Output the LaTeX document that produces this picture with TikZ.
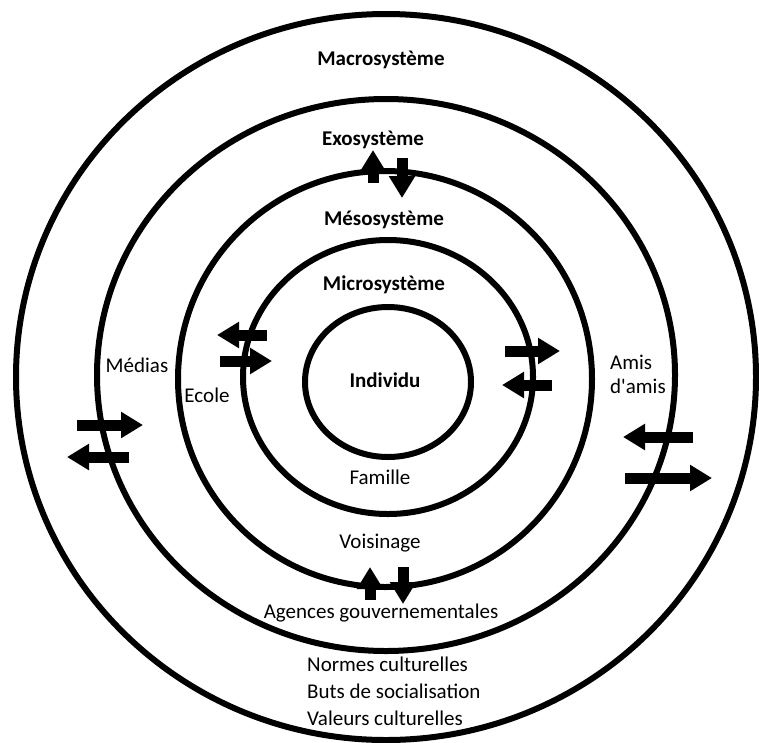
\documentclass[tikz,border=0pt]{standalone}
\usepackage{fontspec}
\setmainfont{Carlito}[Ligatures=TeXOff]
\usetikzlibrary{arrows.meta}
\tikzset{
  ring/.style={draw=black, line width=6pt},
  lbl/.style={inner sep=0pt, font=\fontsize{21}{24}\selectfont},
  blbl/.style={inner sep=0pt, font=\fontsize{21}{24}\selectfont\bfseries},
  blockarrow/.style={line width=11pt, -{Triangle[length=22pt,width=25pt]}}
}
\begin{document}
\begin{tikzpicture}[x=1pt,y=-1pt]
\useasboundingbox (0,0) rectangle (759,742);
\fill[white] (0,0) rectangle (759,742);
% rings
\draw[ring] (386,377) ellipse [x radius=370pt, y radius=363pt];
\draw[ring] (386,375) ellipse [x radius=289pt, y radius=276pt];
\draw[ring] (385,379) ellipse [x radius=207pt, y radius=208pt];
\draw[ring] (388,377) ellipse [x radius=145pt, y radius=137pt];
\draw[ring] (388,382) ellipse [x radius=83pt, y radius=75pt];
% labels
\node[blbl] (macro) at (381,60) {Macrosystème};
\node[blbl] (exo) at (373,140) {Exosystème};
\node[blbl] (meso) at (384,220) {Mésosystème};
\node[blbl] (micro) at (384,285) {Microsystème};
\node[blbl] (indiv) at (385,380) {Individu};
\node[lbl] (fam) at (380,477) {Famille};
\node[lbl] (vois) at (380,543) {Voisinage};
\node[lbl] (agences) at (381,613) {Agences gouvernementales};
\node[lbl, align=left, anchor=north west, font=\fontsize{21}{27}\selectfont] (normes) at (307,657) {Normes culturelles\\Buts de socialisation\\Valeurs culturelles};
\node[lbl] (medias) at (137,365) {Médias};
\node[lbl] (ecole) at (207,395) {Ecole};
\node[lbl, align=left, anchor=west, font=\fontsize{21}{24}\selectfont] (amis) at (610,374) {Amis\\d'amis};
% arrow end points
\coordinate (tua) at (373,183); \coordinate (tub) at (373,150);
\coordinate (tda) at (402,158); \coordinate (tdb) at (402,198);
\coordinate (bua) at (370,600); \coordinate (bub) at (370,567);
\coordinate (bda) at (403,567); \coordinate (bdb) at (403,604);
\coordinate (ula) at (267,335); \coordinate (ulb) at (217,335);
\coordinate (ura) at (220,361); \coordinate (urb) at (272,361);
\coordinate (rra) at (505,351); \coordinate (rrb) at (560,351);
\coordinate (rla) at (552,385); \coordinate (rlb) at (502,385);
\coordinate (lra) at (77,425);  \coordinate (lrb) at (143,425);
\coordinate (lla) at (129,457); \coordinate (llb) at (67,457);
\coordinate (xla) at (693,437); \coordinate (xlb) at (623,437);
\coordinate (xra) at (625,478); \coordinate (xrb) at (712,478);
% block arrows
\draw[blockarrow] (tua) -- (tub);
\draw[blockarrow] (tda) -- (tdb);
\draw[blockarrow] (bua) -- (bub);
\draw[blockarrow] (bda) -- (bdb);
\draw[blockarrow] (ula) -- (ulb);
\draw[blockarrow] (ura) -- (urb);
\draw[blockarrow] (rra) -- (rrb);
\draw[blockarrow] (rla) -- (rlb);
\draw[blockarrow] (lra) -- (lrb);
\draw[blockarrow] (lla) -- (llb);
\draw[blockarrow] (xla) -- (xlb);
\draw[blockarrow] (xra) -- (xrb);
\end{tikzpicture}
\end{document}
